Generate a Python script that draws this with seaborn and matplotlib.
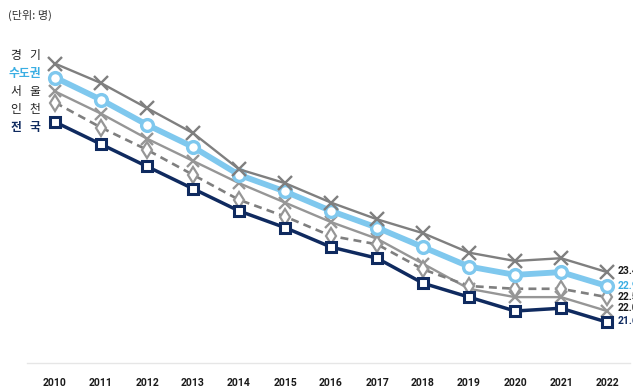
import numpy as np
import pandas as pd
import matplotlib
matplotlib.use("Agg")
import matplotlib.pyplot as plt
import seaborn as sns

# values (class size, persons)
years = list(range(2010, 2023))
gyeonggi = [30.9, 30.2, 29.3, 28.4, 27.1, 26.6, 25.9, 25.3, 24.8, 24.1, 23.8, 23.9, 23.4]
capital = [30.4, 29.6, 28.7, 27.9, 26.9, 26.3, 25.6, 25.0, 24.3, 23.6, 23.3, 23.4, 22.9]
seoul = [29.9, 29.1, 28.2, 27.4, 26.6, 25.9, 25.2, 24.6, 23.7, 22.8, 22.5, 22.5, 22.0]
incheon = [29.5, 28.6, 27.8, 26.9, 26.0, 25.4, 24.7, 24.4, 23.5, 22.9, 22.8, 22.8, 22.5]
national = [28.8, 28.0, 27.2, 26.4, 25.6, 25.0, 24.3, 23.9, 23.0, 22.5, 22.0, 22.1, 21.6]

legend_names = ["경기", "수도권", "서울", "인천", "전국"]
end_labels = ["23.4", "22.9", "22.5", "22.0", "21.6"]

sns.set_theme(style="white")
plt.rcParams['font.family'] = ['Noto Sans CJK KR', 'DejaVu Sans']

gray = "#7f7f7f"
lightgray = "#969696"
blue = "#7fc8ee"
navy = "#0f2a5f"

fig = plt.figure(figsize=(6.33, 3.91), dpi=100)
ax = fig.add_axes([27 / 633, 1 - 363 / 391, 603 / 633, 323 / 391])

# Seoul (gray, x markers)
sns.lineplot(x=years, y=seoul, ax=ax, color=lightgray, lw=1.7, marker="x",
             markersize=9, markeredgewidth=1.7, markeredgecolor=lightgray)
# Incheon (dashed, diamonds)
sns.lineplot(x=years, y=incheon, ax=ax, color=gray, lw=1.9, linestyle=(0, (3, 2)),
             marker="d", markersize=8, markerfacecolor="white",
             markeredgecolor=lightgray, markeredgewidth=1.6)
# National (navy squares)
sns.lineplot(x=years, y=national, ax=ax, color=navy, lw=2.5, marker="s",
             markersize=7.5, markerfacecolor="white", markeredgecolor=navy,
             markeredgewidth=2.2)
# Capital area (thick light blue)
sns.lineplot(x=years, y=capital, ax=ax, color=blue, lw=4.2, marker="o",
             markersize=8.5, markerfacecolor="white", markeredgecolor=blue,
             markeredgewidth=2.4)
# Gyeonggi (gray, x markers)
sns.lineplot(x=years, y=gyeonggi, ax=ax, color=gray, lw=1.7, marker="x",
             markersize=9.5, markeredgewidth=1.7, markeredgecolor=gray)

ax.set_xlim(2010 - 0.61, 2022 + 0.5)
ax.set_ylim(20.13, 31.75)
ax.set_xticks(years)
ax.set_xticklabels([str(y) for y in years], fontsize=7.5, fontweight="bold",
                   color="#1a1a1a", family=["Liberation Sans Narrow", "Roboto"])
ax.tick_params(axis="x", length=0, pad=11)
ax.set_yticks([])
for side in ["top", "right", "left"]:
    ax.spines[side].set_visible(False)
ax.spines["bottom"].set_color("#e6e6e6")
ax.spines["bottom"].set_linewidth(1)

# end labels (cut by the right edge, as in the reference)
label_colors = ["#1a1a1a", "#3aaee3", "#1a1a1a", "#1a1a1a", navy]
label_y = [23.45, 22.9, 22.5, 22.1, 21.65]
for txt, c, yv in zip(end_labels, label_colors, label_y):
    ax.text(2022.24, yv, txt, fontsize=7.5, fontweight="bold", color=c,
            va="center", ha="left", family="Roboto", clip_on=False)

# left-side legend text
name_colors = ["#222222", "#3aaee3", "#222222", "#222222", navy]
for i, (name, c) in enumerate(zip(legend_names, name_colors)):
    yy = 1 - (55 + 18 * i) / 391
    weight = "bold" if i in (1, 4) else "normal"
    if len(name) == 2:
        fig.text(16 / 633, yy, name[0], fontsize=8.5, fontweight=weight,
                 color=c, ha="center", va="center")
        fig.text(35 / 633, yy, name[1], fontsize=8.5, fontweight=weight,
                 color=c, ha="center", va="center")
    else:
        fig.text(24.5 / 633, yy, name, fontsize=8.5, fontweight=weight,
                 color=c, ha="center", va="center")

fig.text(8 / 633, 1 - 15 / 391, "(단위: 명)", fontsize=8, color="#333333",
         ha="left", va="center")

fig.savefig("out.png", dpi=100)
